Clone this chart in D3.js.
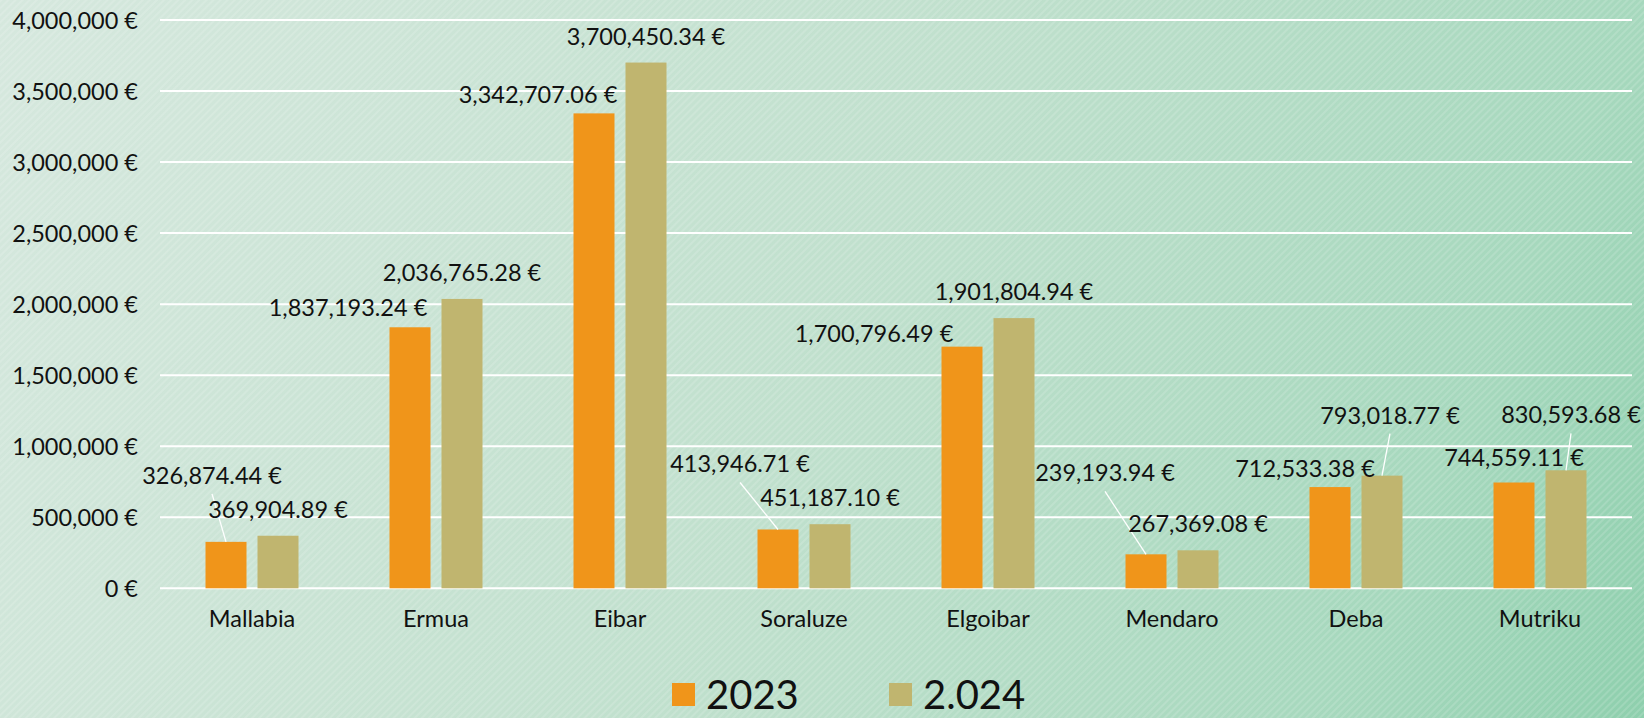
<!DOCTYPE html>
<html>
<head>
<meta charset="utf-8">
<script src="https://cdn.jsdelivr.net/npm/d3@7"></script>
<style>
  html, body { margin: 0; padding: 0; background: #cfe5d9; }
  svg text { font-family: Lato, "Open Sans", sans-serif; fill: #111; }
</style>
</head>
<body>
<div id="chart"></div>
<script>
var categories = ["Mallabia", "Ermua", "Eibar", "Soraluze", "Elgoibar", "Mendaro", "Deba", "Mutriku"];
var seriesNames = ["2023", "2.024"];
var values2023 = [326874.44, 1837193.24, 3342707.06, 413946.71, 1700796.49, 239193.94, 712533.38, 744559.11];
var values2024 = [369904.89, 2036765.28, 3700450.34, 451187.10, 1901804.94, 267369.08, 793018.77, 830593.68];
var yTicks = [0, 500000, 1000000, 1500000, 2000000, 2500000, 3000000, 3500000, 4000000];

// hand placed labels: [dx, dy, leader line] relative to default spot above bar
var labelNudge = {
    "2023": [[-14, -40, 1], [-62, 7, 0], [-56, 8, 0], [-38, -39, 1], [-88, 13, 0], [-41, -55, 1], [-25, 8, 0], [0, 1, 0]],
    "2.024": [[0, 0, 0], [0, 0, 0], [0, 0, 0], [0, 0, 0], [0, 0, 0], [0, 0, 0], [8, -34, 1], [5, -29, 1]]
};

var colors = {"2023": "#f0951a", "2.024": "#c0b56f"};

var W = 1644, H = 718;
var margin = {top: 20, right: 12, bottom: 130, left: 160};
var plotW = W - margin.left - margin.right,
    plotH = 588.3 - margin.top;

var svg = d3.select("#chart").append("svg")
    .attr("width", W)
    .attr("height", H);

var defs = svg.append("defs");
var grad = defs.append("linearGradient")
    .attr("id", "bg")
    .attr("gradientUnits", "userSpaceOnUse")
    .attr("x1", 0).attr("y1", 0).attr("x2", W).attr("y2", H);
grad.append("stop").attr("offset", 0).attr("stop-color", "#d6e8de");
grad.append("stop").attr("offset", 0.5).attr("stop-color", "#c0e0cd");
grad.append("stop").attr("offset", 0.84).attr("stop-color", "#a6d8bd");
grad.append("stop").attr("offset", 1).attr("stop-color", "#8ecfad");

var pat = defs.append("pattern")
    .attr("id", "stripes")
    .attr("patternUnits", "userSpaceOnUse")
    .attr("width", 5).attr("height", 5)
    .attr("patternTransform", "rotate(45)");
pat.append("rect")
    .attr("width", 2).attr("height", 5)
    .attr("fill", "#fff").attr("fill-opacity", 0.14);

svg.append("rect").attr("width", W).attr("height", H).attr("fill", "url(#bg)");
svg.append("rect").attr("width", W).attr("height", H).attr("fill", "url(#stripes)");

var g = svg.append("g")
    .attr("transform", "translate(" + margin.left + "," + margin.top + ")");

var x0 = d3.scaleBand()
    .domain(categories)
    .range([0, plotW])
    .paddingInner(0.4946)
    .paddingOuter(0.2473);

var x1 = d3.scaleBand()
    .domain(seriesNames)
    .range([0, x0.bandwidth()])
    .paddingInner(0.2115);

var y = d3.scaleLinear()
    .domain([0, 4000000])
    .range([plotH, 0]);

// gridlines
g.append("g")
    .selectAll("line")
    .data(yTicks)
    .join("line")
    .attr("x1", 0).attr("x2", plotW)
    .attr("y1", function (d) { return y(d); })
    .attr("y2", function (d) { return y(d); })
    .attr("stroke", "#fff")
    .attr("stroke-width", 2);

// y axis labels
var fmtTick = d3.format(",");
g.append("g")
    .selectAll("text")
    .data(yTicks)
    .join("text")
    .attr("x", -22)
    .attr("y", function (d) { return y(d) + 8.5; })
    .attr("text-anchor", "end")
    .style("font-size", "23.5px")
    .text(function (d) { return fmtTick(d) + " €"; });

// x category labels
g.append("g")
    .selectAll("text")
    .data(categories)
    .join("text")
    .attr("x", function (d) { return x0(d) + x0.bandwidth() / 2; })
    .attr("y", 626.7 - margin.top)
    .attr("text-anchor", "middle")
    .style("font-size", "23.5px")
    .text(function (d) { return d; });

var rows = [];
categories.forEach(function (c, i) {
    rows.push({cat: c, s: "2023", v: values2023[i], n: labelNudge["2023"][i]});
    rows.push({cat: c, s: "2.024", v: values2024[i], n: labelNudge["2.024"][i]});
});

function cx(d) { return x0(d.cat) + x1(d.s) + x1.bandwidth() / 2; }

g.append("g")
    .selectAll("rect")
    .data(rows)
    .join("rect")
    .attr("x", function (d) { return x0(d.cat) + x1(d.s); })
    .attr("y", function (d) { return y(d.v); })
    .attr("width", x1.bandwidth())
    .attr("height", function (d) { return y(0) - y(d.v); })
    .attr("fill", function (d) { return colors[d.s]; });

// leader lines
g.append("g")
    .selectAll("line")
    .data(rows.filter(function (d) { return d.n[2]; }))
    .join("line")
    .attr("x1", function (d) { return cx(d) + d.n[0]; })
    .attr("y1", function (d) { return y(d.v) - 18 + d.n[1] + 10; })
    .attr("x2", cx)
    .attr("y2", function (d) { return y(d.v); })
    .attr("stroke", "#fff")
    .attr("stroke-width", 1.3);

var fmtVal = d3.format(",.2f");
g.append("g")
    .selectAll("text")
    .data(rows)
    .join("text")
    .attr("x", function (d) { return cx(d) + d.n[0]; })
    .attr("y", function (d) { return y(d.v) - 18 + d.n[1]; })
    .attr("text-anchor", "middle")
    .style("font-size", "23.5px")
    .text(function (d) { return fmtVal(d.v) + " €"; });

// legend (kept just inside the bottom edge)
var legendX = [672, 889];
var legend = svg.append("g");
seriesNames.forEach(function (s, i) {
    legend.append("rect")
        .attr("x", legendX[i]).attr("y", 683)
        .attr("width", 23).attr("height", 23)
        .attr("fill", colors[s]);
    legend.append("text")
        .attr("x", legendX[i] + 34)
        .attr("y", 709)
        .style("font-size", "40px")
        .text(s);
});
</script>
</body>
</html>
